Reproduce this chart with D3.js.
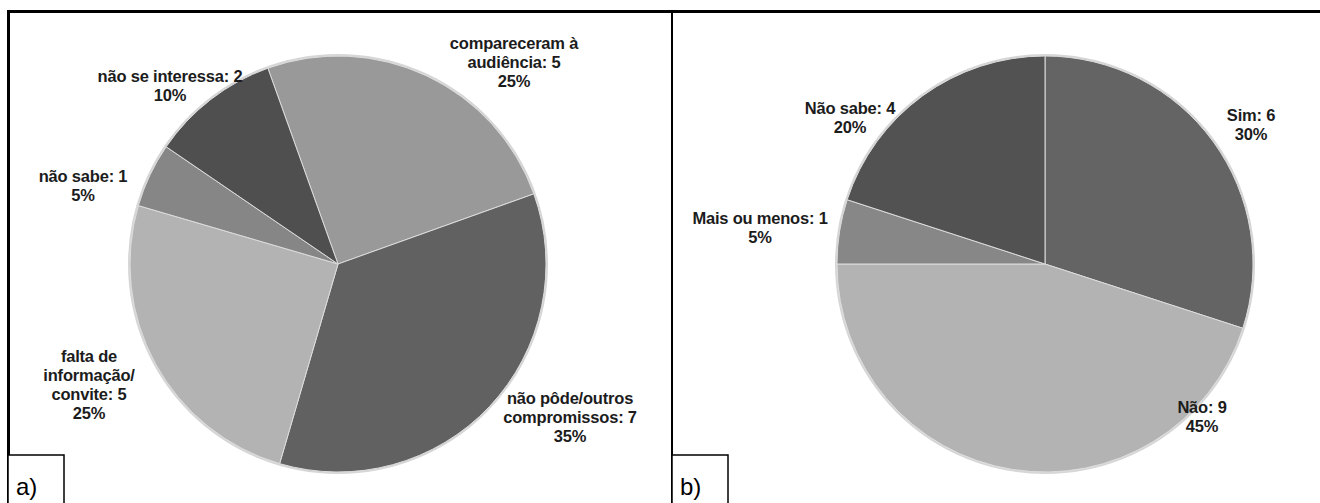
<!DOCTYPE html>
<html>
<head>
<meta charset="utf-8">
<script src="https://cdn.jsdelivr.net/npm/d3@7"></script>
<style>
  html, body { margin: 0; padding: 0; background: #fff; }
  svg { display: block; }
  .lbl { font-family: "Liberation Sans", Arial, sans-serif; font-weight: bold; font-size: 16.5px; fill: #1c1c1c; letter-spacing: -0.2px; }
  .panel-tag { font-family: "Liberation Sans", Arial, sans-serif; font-size: 24px; fill: #000; }
</style>
</head>
<body>
<svg id="chart" width="1320" height="503"></svg>
<script>
// Panel a) — motivos de (não) comparecimento à audiência
const categoriesA = ["compareceram à audiência", "não pôde/outros compromissos", "falta de informação/ convite", "não sabe", "não se interessa"];
const valuesA = [5, 7, 5, 1, 2];
const labelLinesA = [
  ["compareceram à", "audiência: 5", "25%"],
  ["não pôde/outros", "compromissos: 7", "35%"],
  ["falta de", "informação/", "convite: 5", "25%"],
  ["não sabe: 1", "5%"],
  ["não se interessa: 2", "10%"]
];

// Panel b)
const categoriesB = ["Sim", "Não", "Mais ou menos", "Não sabe"];
const valuesB = [6, 9, 1, 4];
const labelLinesB = [
  ["Sim: 6", "30%"],
  ["Não: 9", "45%"],
  ["Mais ou menos: 1", "5%"],
  ["Não sabe: 4", "20%"]
];

// Drawing layout (label offsets give the first line's centre, relative to the pie centre)
const layoutA = {
  cx: 338, cy: 264, r: 208, start: -19.7,
  colors: ["#999999", "#616161", "#b3b3b3", "#868686", "#4f4f4f"],
  labelAt: [[176, -221], [232, 134], [-249, 92], [-255, -88], [-168, -188]]
};
const layoutB = {
  cx: 1045, cy: 264, r: 208, start: 0,
  colors: ["#646464", "#b3b3b3", "#878787", "#525252"],
  labelAt: [[206, -149], [157, 143], [-285, -46], [-195, -156]]
};

const svg = d3.select("#chart");
const lineH = 19;

function drawPie(values, lines, lay) {
  const pie = d3.pie().sort(null).value(d => d)
    .startAngle(lay.start * Math.PI / 180)
    .endAngle(lay.start * Math.PI / 180 + 2 * Math.PI);
  const arc = d3.arc().innerRadius(0).outerRadius(lay.r);
  const g = svg.append("g").attr("transform", `translate(${lay.cx},${lay.cy})`);

  // soft rim under the pie
  g.append("circle").attr("r", lay.r + 1).attr("fill", "none")
    .attr("stroke", "#d6d6d6").attr("stroke-width", 2);

  g.selectAll("path.slice").data(pie(values)).join("path")
    .attr("class", "slice")
    .attr("d", arc)
    .attr("fill", (d, i) => lay.colors[i])
    .attr("stroke", "#dcdcdc")
    .attr("stroke-width", 1);

  const lg = g.selectAll("text.lbl").data(lines).join("text")
    .attr("class", "lbl")
    .attr("text-anchor", "middle")
    .attr("transform", (d, i) => `translate(${lay.labelAt[i][0]},${lay.labelAt[i][1]})`);
  lg.selectAll("tspan").data(d => d).join("tspan")
    .attr("x", 0)
    .attr("dy", (d, i) => i === 0 ? "0.35em" : lineH)
    .text(d => d);
}

drawPie(valuesA, labelLinesA, layoutA);
drawPie(valuesB, labelLinesB, layoutB);

// Frame lines
svg.append("line").attr("x1", 7).attr("x2", 1320).attr("y1", 11.5).attr("y2", 11.5)
  .attr("stroke", "#000").attr("stroke-width", 3);
svg.append("line").attr("x1", 8.5).attr("x2", 8.5).attr("y1", 10).attr("y2", 503)
  .attr("stroke", "#000").attr("stroke-width", 3);
svg.append("line").attr("x1", 672).attr("x2", 672).attr("y1", 10).attr("y2", 503)
  .attr("stroke", "#000").attr("stroke-width", 2);

// Panel tags
const tags = [{t: "a)", x: 8, w: 56}, {t: "b)", x: 672, w: 56}];
tags.forEach(d => {
  svg.append("rect").attr("x", d.x).attr("y", 455).attr("width", d.w).attr("height", 60)
    .attr("fill", "#fff").attr("stroke", "#000").attr("stroke-width", 1.5);
  svg.append("text").attr("class", "panel-tag").attr("x", d.x + 8).attr("y", 495).text(d.t);
});
</script>
</body>
</html>
